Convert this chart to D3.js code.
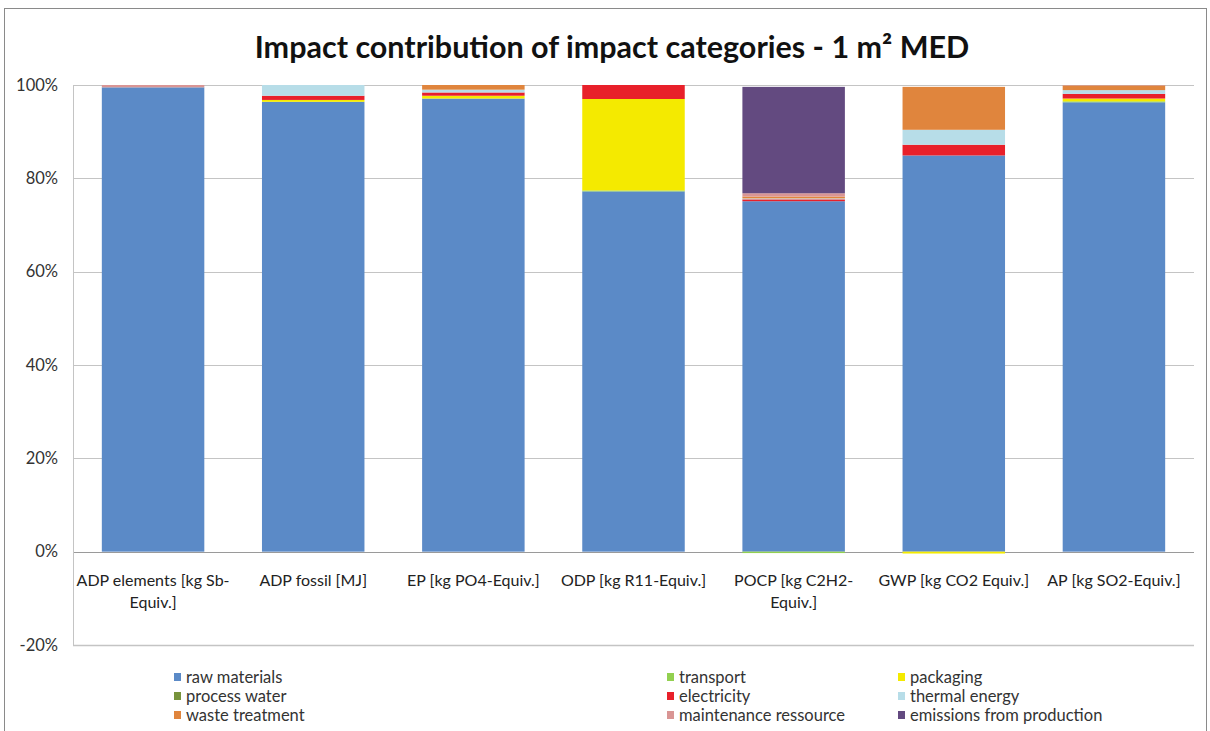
<!DOCTYPE html>
<html>
<head>
<meta charset="utf-8">
<script src="https://cdn.jsdelivr.net/npm/d3@7"></script>
<style>
html,body{margin:0;padding:0;background:#fff;}
svg{display:block;}
text{font-family:Lato,"Open Sans",sans-serif;}
</style>
</head>
<body>
<svg id="chart" width="1210" height="731"></svg>
<script>
// ---- data ----
const categories = ["ADP elements [kg Sb-Equiv.]","ADP fossil [MJ]","EP [kg PO4-Equiv.]","ODP [kg R11-Equiv.]","POCP [kg C2H2-Equiv.]","GWP [kg CO2 Equiv.]","AP [kg SO2-Equiv.]"];
const categoryLabelLines = [["ADP elements [kg Sb-","Equiv.]"],["ADP fossil [MJ]"],["EP [kg PO4-Equiv.]"],["ODP [kg R11-Equiv.]"],["POCP [kg C2H2-","Equiv.]"],["GWP [kg CO2 Equiv.]"],["AP [kg SO2-Equiv.]"]];
const seriesNames = ["raw materials","transport","packaging","process water","electricity","thermal energy","waste treatment","maintenance ressource","emissions from production"];
const rawMaterials   = [99.5, 96.4, 97.1, 77.2, 75.1, 84.9, 96.3];
const transport      = [0,    0,    0,    0.2, -0.3,  0,    0.2];
const packaging      = [0,    0.4,  0.6, 19.6,  0,   -0.4,  0.6];
const processWater   = [0,    0,    0,    0,    0,    0,    0];
const electricity    = [0,    0.9,  0.7,  3.0,  0.4,  2.3,  1.0];
const thermalEnergy  = [0,    2.3,  0.6,  0,    0.2,  3.2,  0.8];
const wasteTreatment = [0,    0,    1.0,  0,    0.4,  9.2,  1.0];
const maintenance    = [0.5,  0,    0,    0,    0.7,  0,    0.1];
const emissions      = [0,    0,    0,    0,   22.8,  0,    0];
const yTicks = [-20, 0, 20, 40, 60, 80, 100];
const colors = ["#5B8AC7","#92D050","#F4EA00","#77933C","#E8202A","#B7DDE8","#E0853D","#D99594","#634A80"];

const seriesValues = [rawMaterials,transport,packaging,processWater,electricity,thermalEnergy,wasteTreatment,maintenance,emissions];
const table = categories.map((c,i)=>{
  const row = {category:c};
  seriesNames.forEach((s,j)=>row[s]=seriesValues[j][i]);
  return row;
});

const svg = d3.select("#chart");

// outer chart border
svg.append("rect").attr("x",4.5).attr("y",8.5).attr("width",1202).attr("height",760)
  .attr("fill","#fff").attr("stroke","#8a8a8a").attr("stroke-width",1);

// title
svg.append("text").attr("x",612).attr("y",58).attr("text-anchor","middle")
  .attr("font-size",30.5).attr("font-weight","bold").attr("fill","#111")
  .text("Impact contribution of impact categories - 1 m² MED");

const x = d3.scaleBand().domain(categories).range([73,1194]).paddingInner(0.36).paddingOuter(0.18);
const y = d3.scaleLinear().domain([-20,100]).range([645,85]);

// gridlines
svg.append("g").selectAll("line").data(yTicks).join("line")
  .attr("x1",73).attr("x2",1194)
  .attr("y1",d=>Math.round(y(d))+0.5).attr("y2",d=>Math.round(y(d))+0.5)
  .attr("stroke",d=>d===0?"#9a9a9a":"#c4c4c4").attr("stroke-width",d=>d===-20?1.5:1);
// left plot edge
svg.append("line").attr("x1",73.5).attr("x2",73.5).attr("y1",y(100)).attr("y2",y(-20))
  .attr("stroke","#c4c4c4");

// y axis labels
const yAxis = d3.axisLeft(y).tickValues(yTicks).tickFormat(d=>d+"%").tickSize(0).tickPadding(0);
const ya = svg.append("g").attr("transform","translate(58,0)").call(yAxis);
ya.select(".domain").remove();
ya.selectAll("text").attr("font-size",16.5).attr("fill","#333").attr("font-family","Lato, sans-serif");

// bars
const stack = d3.stack().keys(seriesNames).offset(d3.stackOffsetDiverging);
const stacked = stack(table);
svg.append("g").selectAll("g").data(stacked).join("g")
  .attr("fill",(d,i)=>colors[i])
  .selectAll("rect").data(d=>d).join("rect")
  .attr("x",d=>x(d.data.category))
  .attr("width",x.bandwidth())
  .attr("y",d=>y(Math.max(d[0],d[1])))
  .attr("height",d=>Math.abs(y(d[0])-y(d[1])));

// category labels
const xl = svg.append("g");
categories.forEach((c,i)=>{
  const t = xl.append("text").attr("text-anchor","middle").attr("font-size",16).attr("fill","#222");
  categoryLabelLines[i].forEach((ln,k)=>{
    t.append("tspan").attr("x",x(c)+x.bandwidth()/2).attr("y",586+k*22).text(ln);
  });
});

// legend
const legX = [174,667,898];
const legY = [677,696,715];
const lg = svg.append("g");
seriesNames.forEach((s,i)=>{
  const cx = legX[i%3], cy = legY[Math.floor(i/3)];
  lg.append("rect").attr("x",cx).attr("y",cy-4).attr("width",7).attr("height",8).attr("fill",colors[i]);
  lg.append("text").attr("x",cx+12).attr("y",cy+5.5).attr("font-size",16.5).attr("fill","#333").text(s);
});
</script>
</body>
</html>
